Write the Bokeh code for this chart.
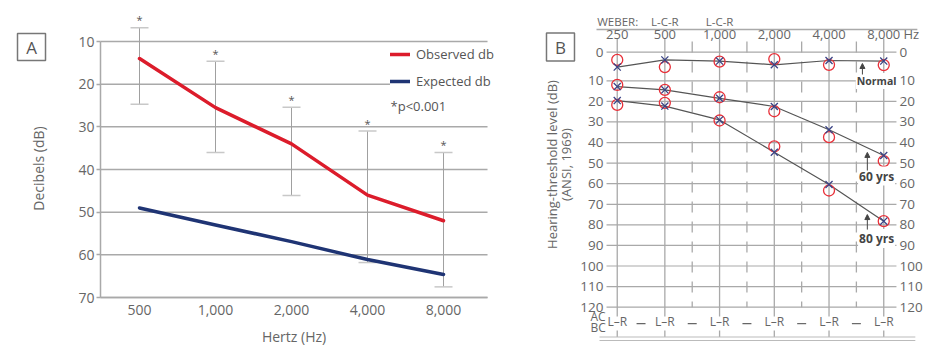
import math
from bokeh.plotting import figure
from bokeh.models import (Range1d, FixedTicker, Legend, LegendItem, Arrow, NormalHead)
from bokeh.layouts import row
from bokeh.embed import file_html
from bokeh.resources import INLINE
from bokeh.core.properties import value

FONT = "Open Sans"
TXT = "#666666"
GRID = "#a9a9a9"

# ---------------- Panel A data ----------------
hz_labels = ["500", "1,000", "2,000", "4,000", "8,000"]
observed_db = [14.0, 25.5, 34.0, 46.0, 52.0]
expected_db = [49.0, 53.0, 56.9, 61.1, 64.6]
err_top = [6.8, 14.6, 25.4, 31.0, 36.0]
err_bottom = [24.7, 36.0, 46.1, 61.8, 67.5]
ticks_a = [10, 20, 30, 40, 50, 60, 70]

# ---------------- Panel B data ----------------
aud_freqs = ["250", "500", "1,000", "2,000", "4,000", "8,000"]
aud_axis_pos = [0.13, 1, 2, 3, 4, 5]          # octave columns of the audiogram grid
normal_x = [5.2, 2.7, 3.1, 4.4, 2.9, 3.1]
normal_o = [2.7, 5.2, 3.3, 2.4, 4.4, 4.5]
sixty_x = [12.8, 14.4, 18.5, 22.5, 33.8, 46.3]
sixty_o = [12.0, 14.4, 18.0, 24.8, 37.4, 49.0]
eighty_x = [19.6, 22.3, 29.0, 44.7, 60.4, 78.2]
eighty_o = [21.7, 20.7, 29.3, 41.9, 63.3, 78.2]
ticks_b = [0, 10, 20, 30, 40, 50, 60, 70, 80, 90, 100, 110, 120]


def warp(db):
    # the printed audiogram stretches the 0-10 dB band
    return round(db if db >= 10 else 10 - (10 - db) * 1.39, 3)


def txt(p, x, y, t, size="13px", align="center", color=TXT, **kw):
    return p.text(x=x, y=y, text=t, text_align=align, text_baseline="middle",
                  text_font=value(FONT), text_font_size=size, text_color=color, **kw)


# ====================== Panel A ======================
xa = list(range(len(hz_labels)))
XL, XR = -0.513, 4.579          # plot-area edges (category units)
pA = figure(width=508, height=356, output_backend="svg", toolbar_location=None,
            x_range=Range1d(-1.829, 4.855), y_range=Range1d(83.82, 0.391), min_border=0)
pA.outline_line_color = None
pA.grid.visible = False

ya = pA.yaxis[0]
ya.fixed_location = XL
ya.ticker = FixedTicker(ticks=ticks_a)
ya.bounds = (10, 70)
ya.axis_line_color = GRID
ya.axis_line_width = 1.5
ya.major_tick_line_color = GRID
ya.major_tick_line_width = 1.5
ya.major_tick_out = 4
ya.major_tick_in = 0
ya.minor_tick_line_color = None
ya.major_label_standoff = 2
ya.major_label_text_font = FONT
ya.major_label_text_font_size = "14px"
ya.major_label_text_color = TXT

xax = pA.xaxis[0]
xax.fixed_location = 70
xax.bounds = (XL, XR)
xax.ticker = FixedTicker(ticks=xa)
xax.major_label_overrides = {i: s for i, s in enumerate(hz_labels)}
xax.axis_line_color = GRID
xax.axis_line_width = 1.5
xax.major_tick_line_color = None
xax.minor_tick_line_color = None
xax.major_tick_out = 0
xax.major_tick_in = 0
xax.major_label_standoff = 7
xax.major_label_text_font = FONT
xax.major_label_text_font_size = "14px"
xax.major_label_text_color = TXT

# grid lines
pA.segment(x0=[XL] * len(ticks_a), y0=ticks_a, x1=[XR] * len(ticks_a), y1=ticks_a,
           line_color=GRID, line_width=1.5)

# axis titles
txt(pA, [(XL + XR) / 2], [79.07], ["Hertz (Hz)"], size="14px")
txt(pA, [-1.329], [39.76], ["Decibels (dB)"], size="14px", angle=math.pi / 2)

# error bars
pA.segment(x0=xa, y0=err_top, x1=xa, y1=err_bottom, line_color="#a0a0a0", line_width=1)
pA.scatter(x=xa, y=err_top, marker="dash", size=18, line_color="#c8c8c8", line_width=1.5)
pA.scatter(x=xa, y=err_bottom, marker="dash", size=18, line_color="#c8c8c8", line_width=1.5)
txt(pA, xa, err_top, ["*"] * len(xa), size="11px", color="#555555", y_offset=-8)

r_obs = pA.line(xa, observed_db, line_color="#dc1c2b", line_width=3.5, line_cap="round", line_join="round")
r_exp = pA.line(xa, expected_db, line_color="#1f3474", line_width=3.5, line_cap="round", line_join="round")

legend = Legend(items=[LegendItem(label="Observed db", renderers=[r_obs]),
                       LegendItem(label="Expected db", renderers=[r_exp])],
                location=(390, 266), border_line_color=None, background_fill_color="white",
                background_fill_alpha=1.0, padding=3, margin=0, spacing=9,
                glyph_width=20, glyph_height=16, label_height=16, label_standoff=6,
                label_text_font=FONT, label_text_font_size="13px", label_text_color="#555555")
pA.add_layout(legend)
txt(pA, [3.303], [25.23], ["*p<0.001"], size="13px", align="left", color="#555555")

# panel tag
pA.rect(x=[-1.421], y=[11.29], width=28, height=27, width_units="screen", height_units="screen",
        fill_color="white", line_color="#777777", line_width=1.5)
txt(pA, [-1.421], [11.29], ["A"], size="17px", color="#555555")

# ====================== Panel B ======================
pB = figure(width=432, height=356, output_backend="svg", toolbar_location=None,
            x_range=Range1d(-1.857, 6.037), y_range=Range1d(143.97, -29.02), min_border=0,
            x_axis_location=None, y_axis_location=None)
pB.outline_line_color = None
pB.grid.visible = False

yt = [warp(t) for t in ticks_b]
n_t = len(ticks_b)
n_f = len(aud_axis_pos)
# horizontal grid
pB.segment(x0=[-0.066] * n_t, y0=yt, x1=[5.232] * n_t, y1=yt, line_color=GRID, line_width=1.2)
# vertical octave lines
pB.segment(x0=aud_axis_pos, y0=[-10.55] * n_f, x1=aud_axis_pos, y1=[124.5] * n_f,
           line_color=GRID, line_width=1.3)
half = [(a + b) / 2 for a, b in zip(aud_axis_pos[1:-1], aud_axis_pos[2:])]
pB.segment(x0=half, y0=[-9.1] * len(half), x1=half, y1=[120] * len(half),
           line_color=GRID, line_width=1.3, line_dash="11 9")
# top line
pB.segment(x0=[-0.249], y0=[-14.93], x1=[5.614], y1=[-14.93], line_color=GRID, line_width=1.5)
# bottom ticks and double line
pB.segment(x0=aud_axis_pos, y0=[131.3] * n_f, x1=aud_axis_pos, y1=[134.5] * n_f,
           line_color=GRID, line_width=1.3)
pB.segment(x0=[-0.194, -0.194], y0=[134.5, 136.2], x1=[5.577, 5.577], y1=[134.5, 136.2],
           line_color="#bbbbbb", line_width=1.2)

# tick labels (left and right)
tk = [str(t) for t in ticks_b]
txt(pB, [-0.121] * n_t, yt, tk, size="13.5px", align="right")
txt(pB, [5.287] * n_t, yt, tk, size="13.5px", align="left")
# frequency labels
txt(pB, aud_axis_pos, [-12.5] * n_f, aud_freqs)
txt(pB, [5.36], [-12.5], ["Hz"], align="left")
txt(pB, [-0.236], [-18.8], ["WEBER:"], size="11.5px", align="left")
txt(pB, aud_axis_pos[1:3], [-18.8, -18.8], ["L-C-R", "L-C-R"], size="11.5px")
# bottom labels
txt(pB, [-0.358, -0.358], [124.6, 129.9], ["AC", "BC"], size="12px", align="left")
txt(pB, aud_axis_pos, [126.8] * n_f, ["L\u2013R"] * n_f, size="12px")
mids = [(a + b) / 2 for a, b in zip(aud_axis_pos[:-1], aud_axis_pos[1:])]
pB.segment(x0=[m - 0.082 for m in mids], y0=[128] * len(mids), x1=[m + 0.082 for m in mids],
           y1=[128] * len(mids), line_color=TXT, line_width=1.2)

# axis title (two lines, rotated)
txt(pB, [-1.058], [50.67], ["Hearing-threshold level (dB)"], angle=math.pi / 2)
txt(pB, [-0.815], [50.67], ["(ANSI, 1969)"], angle=math.pi / 2)

# curves
for xs in (normal_x, sixty_x, eighty_x):
    pB.line(aud_axis_pos, [warp(v) for v in xs], line_color="#555555", line_width=1.2)
for os_ in (normal_o, sixty_o, eighty_o):
    pB.scatter(aud_axis_pos, [warp(v) for v in os_], marker="circle", size=11, fill_color=None,
               line_color="#e8313a", line_width=1.3)
for xs in (normal_x, sixty_x, eighty_x):
    pB.scatter(aud_axis_pos, [warp(v) for v in xs], marker="x", size=10,
               line_color="#3b4486", line_width=1.3)

# annotations
txt(pB, [4.87], [10.1], ["Normal"], size="10.5px", color="#444444", text_font_style="bold",
    background_fill_color="white", padding=1)
txt(pB, [4.87, 4.87], [56.3, 86.6], ["60 yrs", "80 yrs"], size="12px", color="#444444",
    text_font_style="bold", background_fill_color="white", padding=1)
for (xx, y0, y1) in [(4.61, 6.94, 1.59), (4.70, 53.6, 44.8), (4.70, 82.3, 75.0)]:
    pB.add_layout(Arrow(end=NormalHead(size=5, fill_color="#444444", line_color="#444444"),
                        x_start=xx, y_start=y0, x_end=xx, y_end=y1,
                        line_color="#444444", line_width=1))

# panel tag
pB.rect(x=[-0.907], y=[-6.42], width=28, height=28, width_units="screen", height_units="screen",
        fill_color="white", line_color="#777777", line_width=1.5)
txt(pB, [-0.907], [-6.42], ["B"], size="17px", color="#555555")

layout = row(pA, pB)
open("out.html", "w").write(file_html(layout, INLINE))
